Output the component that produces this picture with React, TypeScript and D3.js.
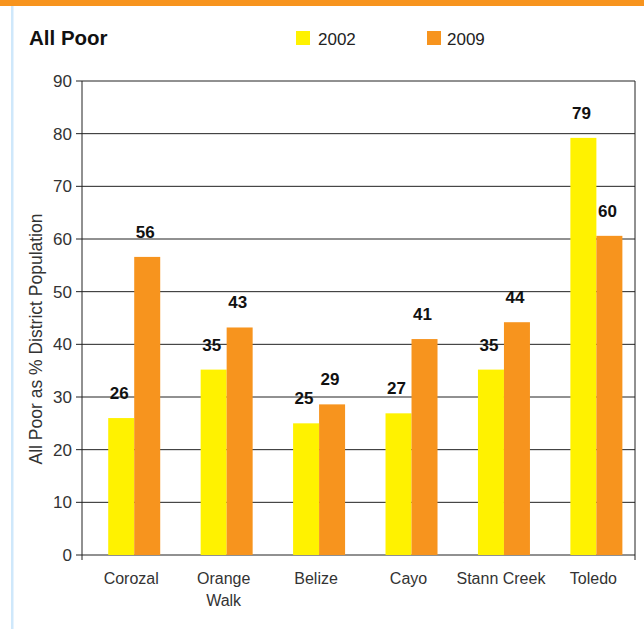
import React from "react";
import * as d3 from "d3";

const categories = ["Corozal", "Orange Walk", "Belize", "Cayo", "Stann Creek", "Toledo"];
const categoryLines = [["Corozal"], ["Orange", "Walk"], ["Belize"], ["Cayo"], ["Stann Creek"], ["Toledo"]];
const series = ["2002", "2009"];
const values2002 = [26, 35.2, 25, 26.9, 35.2, 79.2];
const values2009 = [56.6, 43.2, 28.6, 41, 44.2, 60.6];
const labels2002 = ["26", "35", "25", "27", "35", "79"];
const labels2009 = ["56", "43", "29", "41", "44", "60"];
const yTicks = [0, 10, 20, 30, 40, 50, 60, 70, 80, 90];
const colors = ["#FFF200", "#F7941E"];

export default function App() {
  const W = 644, H = 629;
  const left = 82, right = 635, top = 81, bottom = 555;
  const y = d3.scaleLinear().domain([0, 90]).range([bottom, top]);
  const x0 = d3.scaleBand().domain(categories).range([88, 642.6]);
  const x1 = d3.scaleBand().domain(series).range([-26, 26]);
  const data = [values2002, values2009];
  const labs = [labels2002, labels2009];
  const font = "'Liberation Sans', Arial, sans-serif";
  return (
    <svg width={W} height={H} style={{ position: "absolute", left: 0, top: 0 }} fontFamily={font}>
      <rect x={0} y={0} width={W} height={H} fill="#fff" />
      <rect x={0} y={0} width={W} height={6} fill="#F7941E" />
      <rect x={11} y={6} width={2.5} height={H - 6} fill="#cfe8fb" />
      <text x={29} y={45} fontSize={20.5} fontWeight="bold" fill="#111">All Poor</text>
      {series.map((s, i) => (
        <g key={s}>
          <rect x={296} y={31} width={14} height={14} fill={colors[i]} transform={`translate(${i * 131},0)`} />
          <text x={318 + i * 129} y={45} fontSize={17} fill="#222">{s}</text>
        </g>
      ))}
      {yTicks.map((t) => (
        <g key={t}>
          <line x1={76} x2={right} y1={y(t)} y2={y(t)} stroke="#222" strokeWidth={1} />
          <text x={72} y={y(t) + 6} fontSize={17} textAnchor="end" fill="#333">{t}</text>
        </g>
      ))}
      <line x1={left} x2={left} y1={top} y2={bottom + 5} stroke="#222" />
      <line x1={right} x2={right} y1={top} y2={bottom + 5} stroke="#222" />
      {categories.map((c, ci) => {
        const cx = (x0(c) as number) + x0.bandwidth() / 2;
        return (
          <g key={c}>
            {series.map((s, si) => {
              const v = data[si][ci];
              const bx = cx + (x1(s) as number);
              return (
                <g key={s}>
                  <rect x={bx} y={y(v)} width={x1.bandwidth()} height={bottom - y(v)} fill={colors[si]} />
                  <text x={bx + x1.bandwidth() / 2 - 2} y={y(v) - 19} fontSize={17} fontWeight="bold" textAnchor="middle" fill="#111">{labs[si][ci]}</text>
                </g>
              );
            })}
            {categoryLines[ci].map((ln, li) => (
              <text key={li} x={cx - 3} y={584 + li * 22} fontSize={16} textAnchor="middle" fill="#333">{ln}</text>
            ))}
          </g>
        );
      })}
      <text transform={`translate(42,339) rotate(-90)`} fontSize={17.5} textAnchor="middle" fill="#333">All Poor as % District Population</text>
    </svg>
  );
}
